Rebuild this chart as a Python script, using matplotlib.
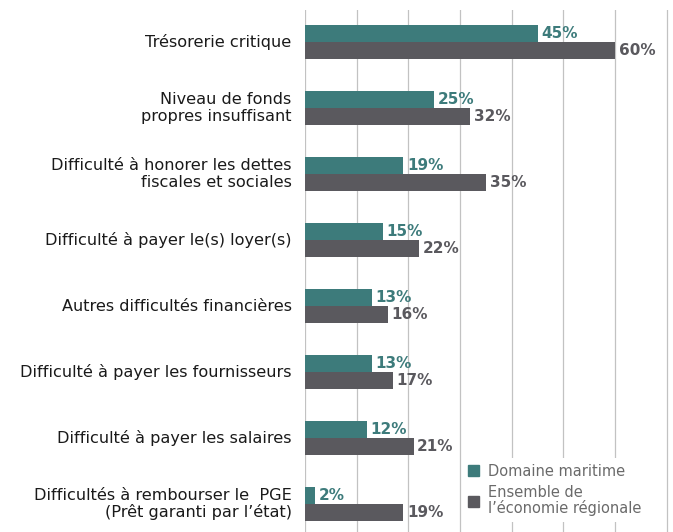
import matplotlib.pyplot as plt
import numpy as np
from matplotlib.patches import Patch

# Difficultés financières : domaine maritime vs économie régionale
categories = [
    "Trésorerie critique",
    "Niveau de fonds\npropres insuffisant",
    "Difficulté à honorer les dettes\nfiscales et sociales",
    "Difficulté à payer le(s) loyer(s)",
    "Autres difficultés financières",
    "Difficulté à payer les fournisseurs",
    "Difficulté à payer les salaires",
    "Difficultés à rembourser le  PGE\n(Prêt garanti par l’état)",
]
maritime = [45, 25, 19, 15, 13, 13, 12, 2]
regionale = [60, 32, 35, 22, 16, 17, 21, 19]
series_names = ["Domaine maritime", "Ensemble de\nl’économie régionale"]

teal = "#3d7b7b"
grey = "#5a595e"
grid_col = "#c2c2c2"

plt.rcParams['font.family'] = ['DejaVu Sans']

fig = plt.figure(figsize=(6.73, 5.32), dpi=100)
ax = fig.add_axes([305 / 673, 0, 368 / 673, 522 / 532])

y = np.arange(len(categories))
h = 0.258
ax.barh(y - h / 2, maritime, height=h, color=teal, zorder=3)
ax.barh(y + h / 2, regionale, height=h, color=grey, zorder=3)

for yi, v in zip(y, maritime):
    ax.text(v + 0.7, yi - h / 2, f"{v}%", color=teal, fontsize=11,
            fontweight='bold', va='center', ha='left', zorder=4)
for yi, v in zip(y, regionale):
    ax.text(v + 0.7, yi + h / 2, f"{v}%", color=grey, fontsize=11,
            fontweight='bold', va='center', ha='left', zorder=4)

ax.set_xlim(0, 71.2)
ax.set_ylim(7.424, -0.485)
ax.set_xticks(np.arange(0, 71, 10))
ax.xaxis.grid(True, color=grid_col, linewidth=0.9, zorder=0)
ax.tick_params(length=0, labelbottom=False, labelleft=False)
for s in ax.spines.values():
    s.set_visible(False)

for yi, c in zip(y, categories):
    ax.text(-2.6, yi, c, ha='right', va='center', multialignment='right',
            fontsize=11.6, color='#1a1a1a', linespacing=1.12)

handles = [Patch(color=teal), Patch(color=grey)]
leg = ax.legend(handles, series_names, loc='lower right',
                bbox_to_anchor=(0.95, 0.005), frameon=True, fontsize=10.5,
                handlelength=0.8, handleheight=0.8, handletextpad=0.6,
                labelspacing=0.45, borderpad=0.4, fancybox=False)
leg.get_frame().set_edgecolor('none')
leg.get_frame().set_facecolor('white')
leg.get_frame().set_alpha(1)
for t in leg.get_texts():
    t.set_color('#6a6a6a')
    t.set_linespacing(1.0)
leg.set_zorder(5)

fig.savefig("out.png", dpi=100)
